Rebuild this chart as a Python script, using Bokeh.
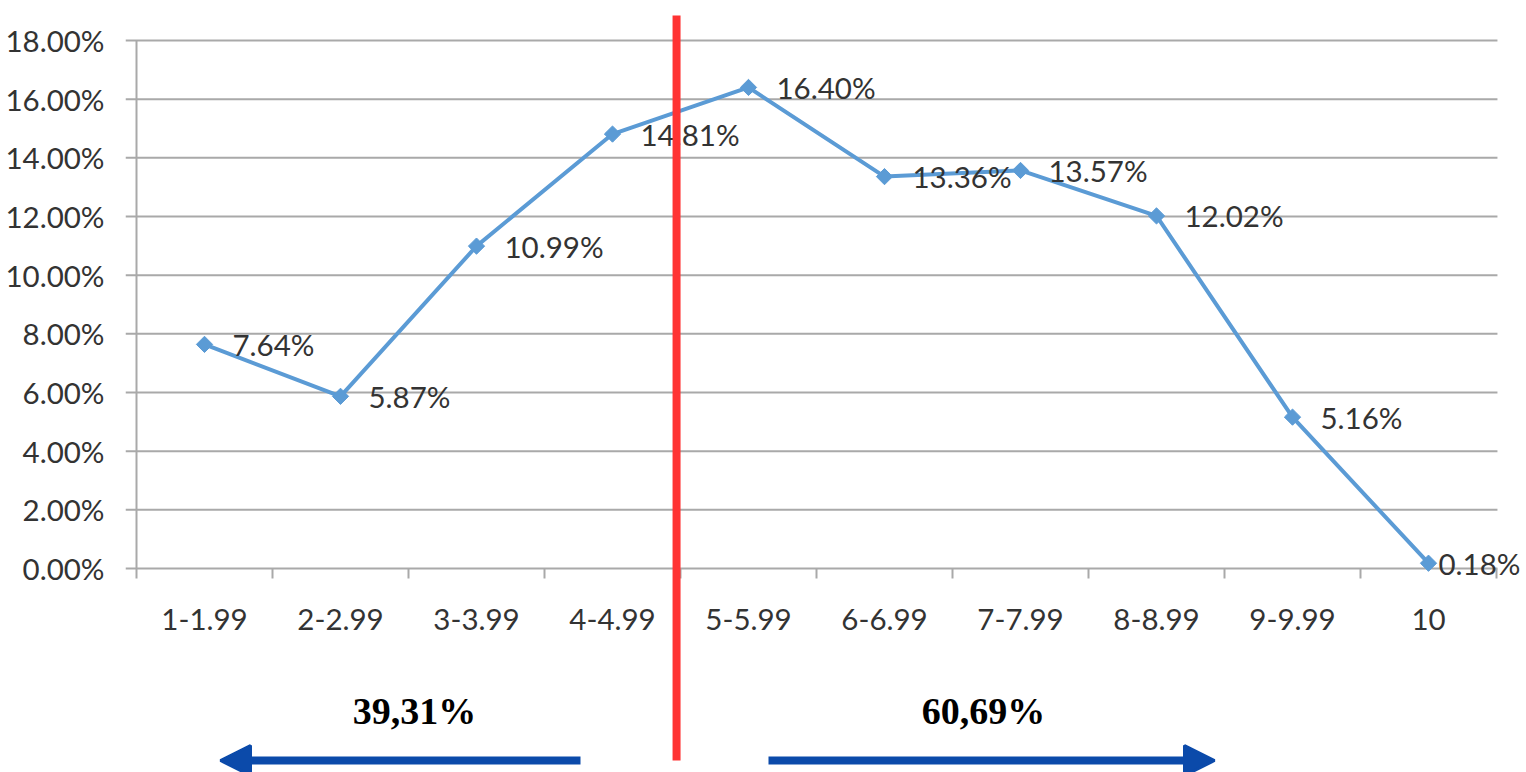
import math
from bokeh.plotting import figure
from bokeh.models import (ColumnDataSource, Range1d, FixedTicker, PrintfTickFormatter,
                          Arrow, NormalHead, Label)
from bokeh.core.properties import value
from bokeh.embed import file_html
from bokeh.resources import INLINE

# ---- data ----
categories = ["1-1.99", "2-2.99", "3-3.99", "4-4.99", "5-5.99",
              "6-6.99", "7-7.99", "8-8.99", "9-9.99", "10"]
shares = [7.64, 5.87, 10.99, 14.81, 16.40, 13.36, 13.57, 12.02, 5.16, 0.18]
y_ticks = [0, 2, 4, 6, 8, 10, 12, 14, 16, 18]
left_total = "39,31%"
right_total = "60,69%"
split_after = 4  # number of categories left of the divider

# ---- styles ----
FONT = "Lato"
FS = "29.5px"
TXT = "#333333"
GRID = "#a9a9a9"
LINE = "#5b9bd5"
BLUE = "#0b4aaa"
RED = "#ff3333"

W, H = 1526, 772
px_y = 528 / 18.0   # pixels per data unit (vertical)
px_x = 136.0        # pixels per category
Y0 = 568            # canvas row of the 0% line
X0 = 136            # canvas column of the value axis
LEFT = 125
p = figure(width=W, height=H, output_backend="svg", toolbar_location=None,
           x_range=Range1d((LEFT - X0) / px_x, (W - X0) / px_x),
           y_range=Range1d((Y0 - H) / px_y, Y0 / px_y),
           min_border_left=LEFT, min_border_right=0, min_border_top=0, min_border_bottom=0)
p.outline_line_color = None
p.xaxis.visible = False
p.xgrid.visible = False
p.ygrid.visible = False
p.background_fill_color = "white"
p.border_fill_color = "white"

yax = p.yaxis[0]
yax.ticker = FixedTicker(ticks=y_ticks)
yax.formatter = PrintfTickFormatter(format="%.2f%%")
yax.axis_line_color = None
yax.major_tick_line_color = None
yax.minor_tick_line_color = None
yax.major_label_standoff = 15
yax.major_label_text_font = FONT
yax.major_label_text_font_size = FS
yax.major_label_text_color = TXT

n = len(categories)
tick_len = 10 / px_y
# gridlines (incl. zero line) with outward ticks on the left
p.segment(x0=[(LEFT - X0) / px_x] * len(y_ticks), y0=y_ticks,
          x1=[n + 0.007] * len(y_ticks), y1=y_ticks, line_color=GRID, line_width=2)
# y axis line
p.segment(x0=[0], y0=[max(y_ticks)], x1=[0], y1=[-tick_len], line_color=GRID, line_width=2)
# x category boundary ticks
bx = list(range(1, n + 1))
p.segment(x0=bx, y0=[0] * n, x1=bx, y1=[-tick_len] * n, line_color=GRID, line_width=2)

xs = [i + 0.5 for i in range(n)]
src = ColumnDataSource(dict(
    x=xs, y=shares,
    lab=[f"{v:.2f}%" for v in shares],
    xo=[28] * (n - 1) + [10],
))
p.line("x", "y", source=src, line_color=LINE, line_width=4)
p.scatter("x", "y", source=src, marker="square", angle=math.pi / 4, size=11.5,
          fill_color=LINE, line_color=LINE)
p.text("x", "y", text="lab", source=src, x_offset="xo", text_align="left",
       text_baseline="middle", text_font=value(FONT), text_font_size=FS, text_color=TXT)

# category labels
cat_y = -51 / px_y
p.text(x=xs, y=[cat_y] * n, text=categories, text_align="center", text_baseline="middle",
       text_font=value(FONT), text_font_size=FS, text_color=TXT)

# red divider
div_x = split_after - 0.029
p.segment(x0=[div_x], y0=[(Y0 - 15) / px_y], x1=[div_x], y1=[(Y0 - 760) / px_y],
          line_color=RED, line_width=8)

# totals
tot_y = (Y0 - 710) / px_y
for tx, t in [((414 - X0) / px_x, left_total), ((983 - X0) / px_x, right_total)]:
    p.add_layout(Label(x=tx, y=tot_y, text=t, text_align="center", text_baseline="middle",
                       text_font="Liberation Serif", text_font_style="bold",
                       text_font_size="38px", text_color="black"))

# arrows
ay = (Y0 - 760) / px_y
for xs0, xe in [(580, 220), (768, 1214)]:
    p.add_layout(Arrow(x_start=(xs0 - X0) / px_x, y_start=ay, x_end=(xe - X0) / px_x, y_end=ay,
                       line_color=BLUE, line_width=8,
                       end=NormalHead(size=30, fill_color=BLUE, line_color=BLUE, line_width=3)))

open("out.html", "w").write(file_html(p, INLINE))
